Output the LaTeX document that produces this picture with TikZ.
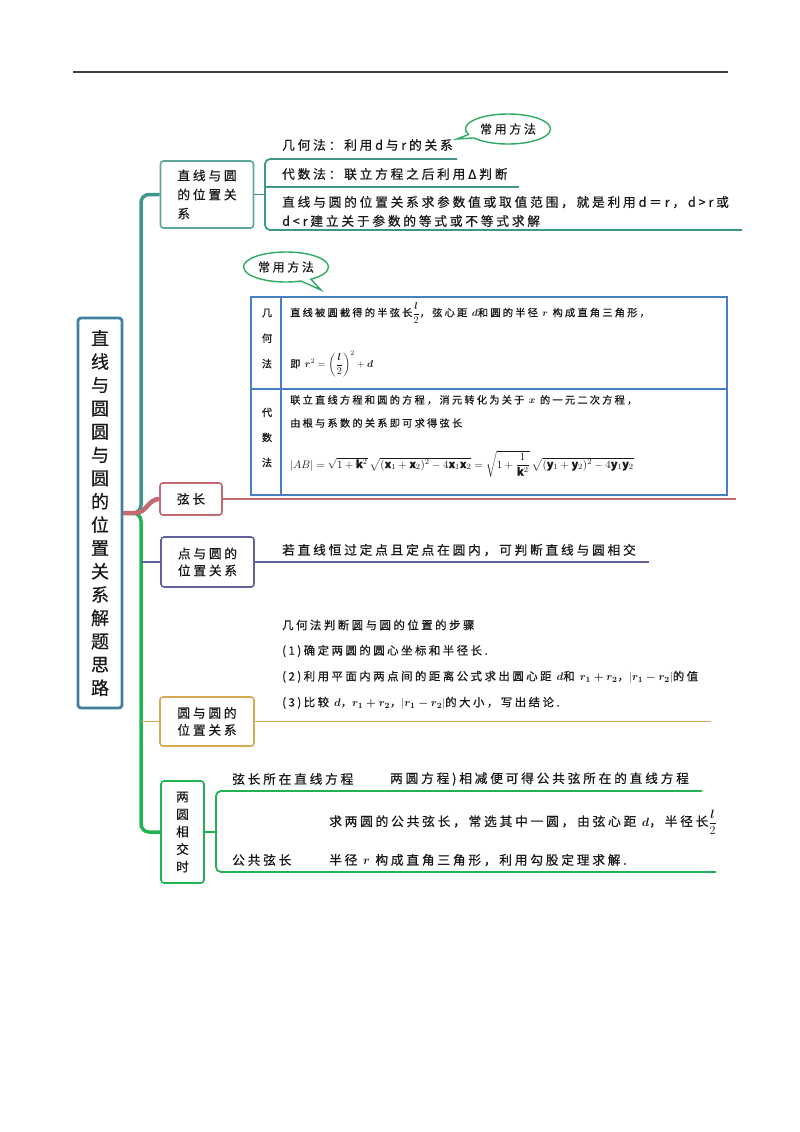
\documentclass[tikz,border=0pt]{standalone}
\usepackage{amsmath}
\usepackage{fontspec}
\setmainfont{Noto Sans CJK SC}[LetterSpace=22, FakeBold=0.6]
\usetikzlibrary{positioning,calc,shapes.callouts}

\definecolor{rootblue}{RGB}{62,128,160}
\definecolor{mapteal}{RGB}{62,150,140}
\definecolor{mappink}{RGB}{196,104,114}
\definecolor{mappurple}{RGB}{96,96,158}
\definecolor{mapgold}{RGB}{214,170,82}
\definecolor{mapgreen}{RGB}{34,178,82}
\definecolor{tblblue}{RGB}{72,126,196}
\definecolor{hintgreen}{RGB}{44,172,96}
\definecolor{ink}{RGB}{25,25,25}

\begin{document}
\begin{tikzpicture}[
  x=1pt, y=-1pt,
  every node/.style={text=ink},
  box/.style={draw, line width=1.6pt, rounded corners=3pt, align=center, inner sep=0pt,
    font=\fontsize{12.7}{17}\selectfont},
  txt/.style={anchor=west, inner sep=0pt, align=left, font=\fontsize{12.7}{19}\selectfont},
  tbltxt/.style={anchor=west, inner sep=0pt, align=left, font=\fontsize{10.2}{14}\selectfont},
  steptxt/.style={anchor=west, inner sep=0pt, align=left, font=\fontsize{11.4}{14}\selectfont},
  hint/.style={ellipse callout, draw=hintgreen, line width=1.4pt, inner sep=0pt,
    minimum width=85pt, minimum height=30pt, font=\fontsize{12}{14}\selectfont},
  trunk/.style={line width=3.5pt, rounded corners=8pt},
  twig/.style={line width=1.8pt}
]
\useasboundingbox (0,0) rectangle (800,1132);

% header rule
\draw[line width=1.5pt, black!75] (73,72) -- (728,72);

% root
\node[box, draw=rootblue, line width=2.8pt, minimum width=44pt, minimum height=390pt,
  font=\fontsize{18}{23.3}\selectfont] (root) at (100,513)
  {直\\线\\与\\圆\\圆\\与\\圆\\的\\位\\置\\关\\系\\解\\题\\思\\路};

% branches
\node[box, draw=mapteal!85, minimum width=93pt, minimum height=67pt, align=left,
  font=\fontsize{12.7}{19}\selectfont] (lcpos) at (207,194.5) {直线与圆\\的位置关\\系};
\node[box, draw=mappink, minimum width=62pt, minimum height=32pt] (chord) at (191,499) {弦长};
\node[box, draw=mappurple, minimum width=93pt, minimum height=50pt] (ptpos) at (207.5,562) {点与圆的\\位置关系};
\node[box, draw=mapgold, minimum width=94pt, minimum height=49pt] (ccpos) at (207,721.5) {圆与圆的\\位置关系};
\node[box, draw=mapgreen, minimum width=43pt, minimum height=102pt,
  font=\fontsize{12.7}{17.5}\selectfont] (ccint) at (182.5,832) {两\\圆\\相\\交\\时};

% trunk
\coordinate (hub) at (141,513);
\draw[trunk, mapgreen] (root.east) -| (hub |- ccint.west) -- (ccint.west);
\draw[trunk, mapteal] (root.east) -| (hub |- lcpos.west) -- (lcpos.west);
\draw[line width=4.5pt, mappink] (root.east) -- ++(12,0) to[out=0, in=180] (chord.west);
\draw[twig, mappurple] (hub |- ptpos.west) -- (ptpos.west);
\draw[twig, mapgold] (hub |- ccpos.west) -- (ccpos.west);

% branch lines
\draw[twig, mappink] (chord.east) -- ++(513,0);
\draw[twig, mappurple] (ptpos.east) -- ++(394,0);
\draw[twig, mapgold] (ccpos.east) -- ++(456,0);

% line and circle
\coordinate (fork1) at (265,194.5);
\draw[twig, mapteal] (lcpos.east) -- (fork1);
\draw[twig, mapteal, rounded corners=5pt] (457,159) -- (265,159) -- (265,230) -- (742,230);
\draw[twig, mapteal] (265,187) -- (519,187);
\node[txt] (geo) at (282,145) {几何法：利用d与r的关系};
\node[txt] (alg) at (282,174) {代数法：联立方程之后利用Δ判断};
\node[txt] (para) at (282,211.5) {直线与圆的位置关系求参数值或取值范围，就是利用d＝r，d>r或\\d<r建立关于参数的等式或不等式求解};
\node[hint, callout absolute pointer={(457,139)}] (hint1) at (508,129) {常用方法};

% chord table
\node[hint, callout absolute pointer={(321,290)}] (hint2) at (286,267) {常用方法};
\draw[tblblue, line width=1.5pt] (251,297) rectangle (727,495);
\draw[tblblue, line width=1.2pt] (281,297) -- (281,495) (251,389) -- (727,389);
\node[tbltxt, anchor=center, align=center, font=\fontsize{10.2}{25.5}\selectfont] (geolbl) at (267,338.5) {几\\何\\法};
\node[tbltxt, anchor=center, align=center, font=\fontsize{10.2}{25}\selectfont] (alglbl) at (267,437.5) {代\\数\\法};
\node[tbltxt] (geo1) at (290,313) {直线被圆截得的半弦长$\dfrac{\boldsymbol{l}}{2}$，弦心距 $\boldsymbol{d}$和圆的半径 $\boldsymbol{r}$ 构成直角三角形，};
\node[tbltxt] (geo2) at (290,364) {即 $\boldsymbol{r}^2=\left(\dfrac{\boldsymbol{l}}{2}\right)^2+\boldsymbol{d}$};
\node[tbltxt] (alg1) at (290,400) {联立直线方程和圆的方程，消元转化为关于 $\boldsymbol{x}$ 的一元二次方程，};
\node[tbltxt] (alg2) at (290,423) {由根与系数的关系即可求得弦长};
\node[tbltxt, font=\fontsize{11}{13}\selectfont] (alg3) at (290,464)
  {$|AB|=\sqrt{1+\mathbf{k}^2}\,\sqrt{(\mathbf{x}_1+\mathbf{x}_2)^2-4\mathbf{x}_1\mathbf{x}_2}=\sqrt{1+\dfrac{1}{\mathbf{k}^2}}\,\sqrt{(\mathbf{y}_1+\mathbf{y}_2)^2-4\mathbf{y}_1\mathbf{y}_2}$};

% point and circle
\node[txt] (ptrule) at (282,550) {若直线恒过定点且定点在圆内，可判断直线与圆相交};

% circle and circle
\node[steptxt] (st0) at (282,625) {几何法判断圆与圆的位置的步骤};
\node[steptxt] (st1) at (282,651) {(1)确定两圆的圆心坐标和半径长.};
\node[steptxt] (st2) at (282,677) {(2)利用平面内两点间的距离公式求出圆心距 $\boldsymbol{d}$和 $\boldsymbol{r_1+r_2}$，$|\boldsymbol{r_1-r_2}|$的值};
\node[steptxt] (st3) at (282,703) {(3)比较 $\boldsymbol{d}$，$\boldsymbol{r_1+r_2}$，$|\boldsymbol{r_1-r_2}|$的大小，写出结论.};

% two circles meeting
\coordinate (fork5) at (216,832);
\draw[twig, mapgreen] (ccint.east) -- (fork5);
\draw[twig, mapgreen, rounded corners=5pt] (702,791) -- (216,791) -- (216,872) -- (716,872);
\node[txt] (cl1) at (232,779) {弦长所在直线方程};
\node[txt] (cl2) at (390,779) {两圆方程)相减便可得公共弦所在的直线方程};
\node[txt] (cc1) at (329,822) {求两圆的公共弦长，常选其中一圆，由弦心距 $\boldsymbol{d}$，半径长$\dfrac{\boldsymbol{l}}{2}$};
\node[txt] (cc0) at (232,860) {公共弦长};
\node[txt] (cc2) at (329,860) {半径 $\boldsymbol{r}$ 构成直角三角形，利用勾股定理求解.};

\end{tikzpicture}
\end{document}
